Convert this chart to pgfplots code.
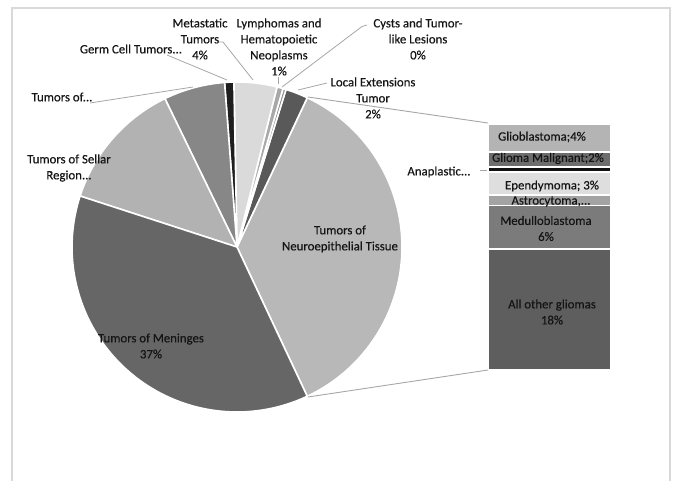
\documentclass[border=0pt]{standalone}
\usepackage{fontspec}
\setmainfont{Carlito}
\newfontfamily\labfont{Carlito}[FakeBold=0.35]
\usepackage{pgfplots}
\usepackage{pgfplotstable}
\pgfplotsset{compat=1.18}

% grey shades of the pie slices
\definecolor{neuro}{HTML}{B8B8B8}
\definecolor{local}{HTML}{595959}
\definecolor{cysts}{HTML}{8C8C8C}
\definecolor{lymph}{HTML}{A8A8A8}
\definecolor{meta}{HTML}{DADADA}
\definecolor{germ}{HTML}{1E1E1E}
\definecolor{nerves}{HTML}{878787}
\definecolor{sellar}{HTML}{B2B2B2}
\definecolor{meninges}{HTML}{666666}
% grey shades of the bar segments
\definecolor{gliob}{HTML}{B4B4B4}
\definecolor{gliomam}{HTML}{6D6D6D}
\definecolor{anapl}{HTML}{111111}
\definecolor{ependy}{HTML}{DEDEDE}
\definecolor{astro}{HTML}{A3A3A3}
\definecolor{medullo}{HTML}{7B7B7B}
\definecolor{allother}{HTML}{5E5E5E}
\definecolor{leader}{HTML}{A6A6A6}
\definecolor{frame}{HTML}{D9D9D9}
\definecolor{txt}{HTML}{141414}

% pie slices, counter-clockwise from the split-off slice (percent)
\pgfplotstableread[col sep=comma]{
name,value,shade
Neuroepithelial,36.0,neuro
Local Extensions,2.2,local
Cysts,0.3,cysts
Lymphomas,0.6,lymph
Metastatic,4.2,meta
Germ Cell,0.9,germ
Tumors of,6.0,nerves
Sellar Region,12.8,sellar
Meninges,37.0,meninges
}\piedata

\begin{document}
\begin{tikzpicture}[x=1bp,y=1bp]
\tikzset{lab/.style={font=\labfont\fontsize{12.8bp}{16bp}\selectfont, text=txt, align=center, inner sep=0pt}}
% breakdown of the neuroepithelial slice
\begin{axis}[at={(488bp,111bp)}, anchor=south west,
  scale only axis, width=123bp, height=246bp,
  xmin=-0.5, xmax=0.5, ymin=0, ymax=36,
  hide axis, ybar stacked, bar width=123bp,
  every axis plot/.append style={draw=white, line width=1.6bp}]
  \addplot[fill=allother] coordinates {(0,17.7)};
  \addplot[fill=medullo] coordinates {(0,6.4)};
  \addplot[fill=astro] coordinates {(0,1.5)};
  \addplot[fill=ependy] coordinates {(0,3.4)};
  \addplot[fill=anapl] coordinates {(0,0.7)};
  \addplot[fill=gliomam] coordinates {(0,2.2)};
  \addplot[fill=gliob] coordinates {(0,4.1)};
\end{axis}
\begin{axis}[name=main, at={(0,0)}, anchor=south west,
  scale only axis, width=675bp, height=481bp,
  xmin=0, xmax=675, ymin=0, ymax=481, y dir=reverse,
  hide axis, clip=false]
  \path (axis cs:0,0) rectangle (axis cs:675,481);
  % outer chart frame
  \draw[frame, line width=1.5bp] (axis cs:12,481) -- (axis cs:12,8) -- (axis cs:670,8) -- (axis cs:670,481);
  % pie slices
  \pgfplotstablegetelem{0}{value}\of\piedata
  \pgfmathsetmacro\angA{-1.8*\pgfplotsretval}
  \pgfplotsforeachungrouped \i in {0,...,8}{%
    \pgfplotstablegetelem{\i}{value}\of\piedata \let\val\pgfplotsretval
    \pgfplotstablegetelem{\i}{shade}\of\piedata \let\shd\pgfplotsretval
    \pgfmathsetmacro\angB{\angA+3.6*\val}%
    \edef\doslice{\noexpand\addplot[fill=\shd, draw=white, line width=1.6bp, line join=round,
      domain=\angA:\angB, samples=60, variable=\noexpand\t]
      ({237+165*cos(\noexpand\t)},{247-165*sin(\noexpand\t)}) -- (axis cs:237,247) -- cycle;}%
    \doslice
    \global\let\angA\angB
  }
  % connectors from the split-off slice to the bar
  \draw[leader, line width=0.9bp] (axis cs:308,97) -- (axis cs:488,123);
  \draw[leader, line width=0.9bp] (axis cs:308,397) -- (axis cs:488,370);
  % leader lines
  \draw[leader, line width=0.8bp] (axis cs:218,42) -- (axis cs:223,42) -- (axis cs:253,80);
  \draw[leader, line width=0.8bp] (axis cs:167,55) -- (axis cs:227,80);
  \draw[leader, line width=0.8bp] (axis cs:278,77) -- (axis cs:278,84);
  \draw[leader, line width=0.8bp] (axis cs:367,25) -- (axis cs:362,26.5) -- (axis cs:282,87);
  \draw[leader, line width=0.8bp] (axis cs:327,83) -- (axis cs:298,90);
  \draw[leader, line width=0.8bp] (axis cs:90,103) -- (axis cs:193,87);
  \draw[leader, line width=0.8bp] (axis cs:480,170) -- (axis cs:487,170);
  % slice labels
  \node[lab] at (axis cs:200,39) {Metastatic\\Tumors\\4\%};
  \node[lab] at (axis cs:279,47) {Lymphomas and\\Hematopoietic\\Neoplasms\\1\%};
  \node[lab] at (axis cs:418,39) {Cysts and Tumor-\\like Lesions\\0\%};
  \node[lab] at (axis cs:373,98) {Local Extensions\\Tumor\\2\%};
  \node[lab] at (axis cs:131,49) {Germ Cell Tumors...};
  \node[lab] at (axis cs:62,97) {Tumors of...};
  \node[lab] at (axis cs:69,168) {Tumors of Sellar\\Region...};
  \node[lab] at (axis cs:340,239) {Tumors of\\Neuroepithelial Tissue};
  \node[lab] at (axis cs:151,346) {Tumors of Meninges\\37\%};
  % bar labels
  \node[lab] at (axis cs:542,137) {Glioblastoma;4\%};
  \node[lab] at (axis cs:548,158.5) {Glioma Malignant;2\%};
  \node[lab] at (axis cs:439,172) {Anaplastic...};
  \node[lab] at (axis cs:552,186) {Ependymoma; 3\%};
  \node[lab] at (axis cs:551,201.5) {Astrocytoma,...};
  \node[lab] at (axis cs:546,228.5) {Medulloblastoma\\6\%};
  \node[lab] at (axis cs:552,312) {All other gliomas\\18\%};
\end{axis}
\end{tikzpicture}
\end{document}
